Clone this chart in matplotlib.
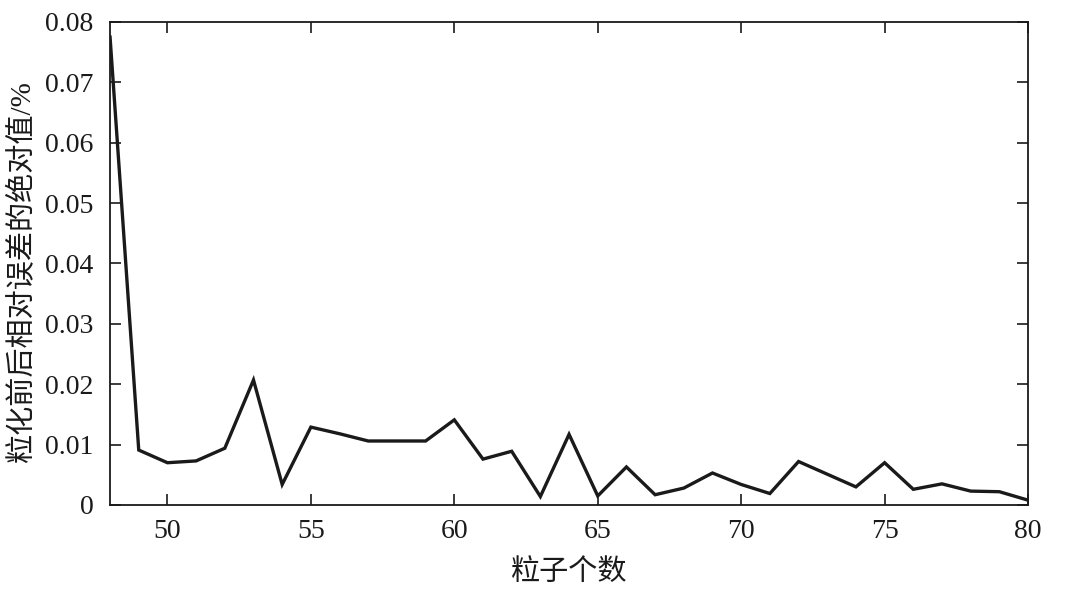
import matplotlib
matplotlib.use("Agg")
import matplotlib.pyplot as plt

# 粒子个数
particles = list(range(48, 81))
# 粒化前后相对误差的绝对值 (%)
errors = [
    0.0775, 0.0091, 0.0070, 0.0073, 0.0094, 0.0207, 0.0034, 0.0129,
    0.0118, 0.0106, 0.0106, 0.0106, 0.0141, 0.0076, 0.0089, 0.0014,
    0.0117, 0.0015, 0.0063, 0.0017, 0.0028, 0.0053, 0.0034, 0.0019,
    0.0072, 0.0051, 0.0030, 0.0070, 0.0026, 0.0035, 0.0023, 0.0022,
    0.0008,
]
yticks = [0, 0.01, 0.02, 0.03, 0.04, 0.05, 0.06, 0.07, 0.08]
ytick_labels = ["0", "0.01", "0.02", "0.03", "0.04", "0.05", "0.06", "0.07", "0.08"]
xticks = [50, 55, 60, 65, 70, 75, 80]

plt.rcParams["font.family"] = ["Liberation Serif", "Noto Sans CJK SC", "DejaVu Sans"]

fig = plt.figure(figsize=(10.8, 5.96), dpi=100)
ax = fig.add_axes([0.1019, 0.1527, 0.85, 0.8104])

ax.plot(particles, errors, color="#1a1a1a", linewidth=2.4, solid_joinstyle="miter")

ax.set_xlim(48, 80)
ax.set_ylim(0, 0.08)
ax.set_xticks(xticks)
ax.set_yticks(yticks)
ax.set_yticklabels(ytick_labels)

ax.tick_params(direction="in", length=8, width=1.2, top=True, right=True,
               labelsize=20, colors="#1a1a1a")
ax.tick_params(axis="x", pad=10)
ax.tick_params(axis="y", pad=12)
for s in ax.spines.values():
    s.set_linewidth(1.3)
    s.set_color("#1a1a1a")

ax.set_xlabel("粒子个数", fontsize=21, color="#1a1a1a")
ax.set_ylabel("粒化前后相对误差的绝对值/%", fontsize=21, color="#1a1a1a")
ax.xaxis.set_label_coords(0.5, -0.112)
ax.yaxis.set_label_coords(-0.081, 0.484)

fig.savefig("out.png", dpi=100)
